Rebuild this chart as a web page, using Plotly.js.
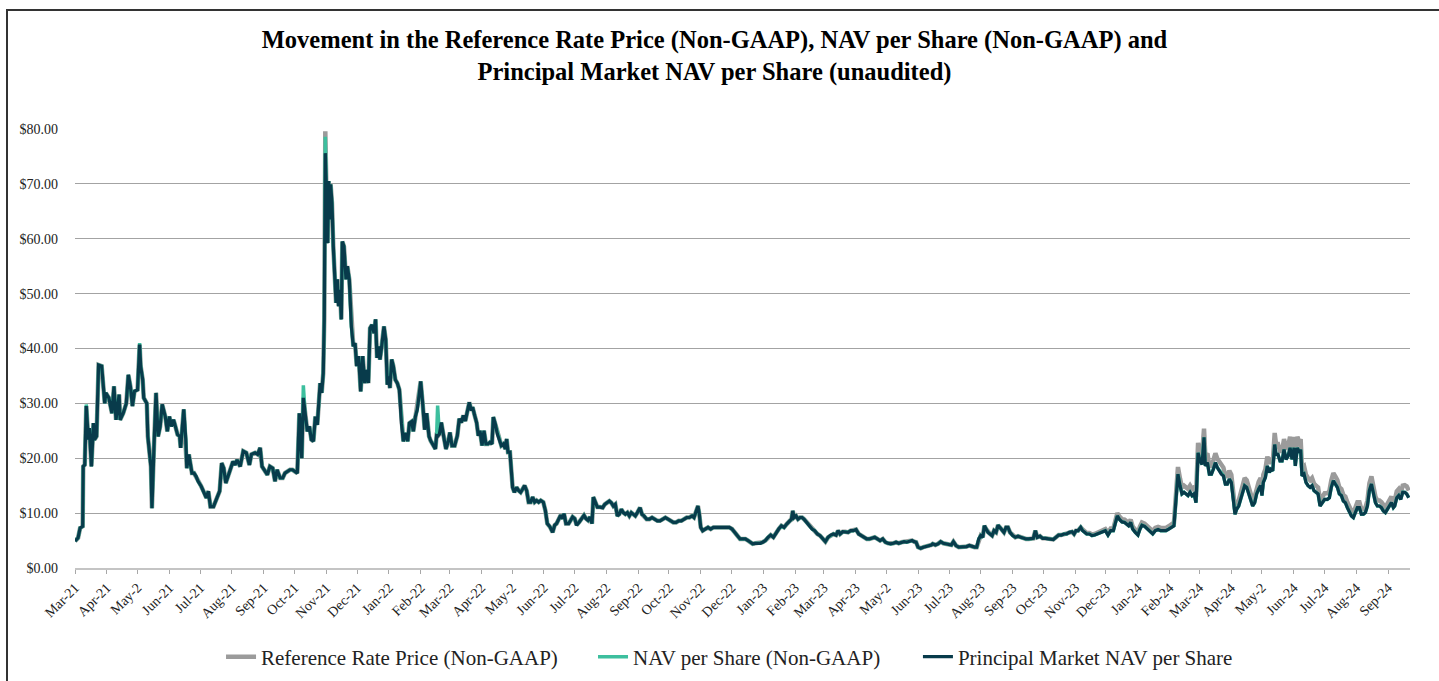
<!DOCTYPE html>
<html>
<head>
<meta charset="utf-8">
<script src="https://cdn.plot.ly/plotly-3.0.1.min.js"></script>
<style>
  html, body { margin: 0; padding: 0; background: #fff; }
  #chart { width: 1439px; height: 681px; position: relative; }
  #frame { position: absolute; left: 6px; top: 9px; width: 1433px; height: 672px;
           border-left: 2px solid #333; border-top: 2px solid #333; pointer-events: none; box-sizing: border-box; }
</style>
</head>
<body>
<div id="chart"></div>
<div id="frame"></div>
<script>
// Start of the series (first trading day shown)
const startDate = '2021-03-01';

// Days elapsed since startDate for each observation
const dayOffsets = [
  0,3,5,7.5,8,9.5,11,13,14,16,
  18,19,21,23,26,29,30,33,36,38,
  40,43,44,47,50,52,54,56,58,61,
  63,64,66,67,70,71,74,75,77,79,
  81,83,85,88,90,92,94,96,97,100,
  102,103,106,108,109,111,114,116,118,120,
  123,126,128,130,132,135,138,141,143,145,
  147,149,152,154,156,158,161,164,167,170,
  172,175.5,178,180.5,182.3,185,187.5,190,192.7,195,
  197,200,202.5,204.7,207,209.6,212,214.5,216.7,218.7,
  221,222.6,224.5,226.5,228.5,230.4,232.4,234.3,236.2,237.5,
  239,240.5,242,243,244,245,246.3,247.3,248.3,249.2,
  250.5,251.8,253.5,254.5,255.7,257,258.3,259.6,260.6,262.2,
  264.2,265.5,267.4,269.4,271.3,273,274.6,276.5,278.5,280.5,
  282.4,284.3,286,287.6,289.5,291.5,293,294.4,296,297.3,
  299,301.2,302.9,304.5,305.8,307,308.7,310.3,312.3,314.2,
  316.2,318.2,320.1,322.4,324.3,326,328.2,329.8,331.8,333.7,
  335.7,337,339,340.9,342.8,345.1,346.7,349.3,351.3,352.5,
  353.5,355.2,357.1,359,361.6,363.6,365.5,367.5,370.1,372.7,
  374.6,376.6,378.6,380.5,382.5,384.4,386.3,387.6,389.6,391.5,
  393.2,394.8,396.8,398.7,400.6,402.6,404.5,406.5,407.8,409.8,
  411.7,413.6,415.6,417.6,419.5,420.8,422.1,424,425.7,426.6,
  428.3,430.5,432.5,434.4,436.4,438.3,440.3,442.2,444.2,446.1,
  448.1,450,452,454,456.5,458.5,460.4,463,465.6,467.6,
  469.5,471.5,473.4,475.4,476.7,478.6,481.2,483.2,485.1,487.1,
  489,491.6,494.2,496.2,498.1,500.1,502,504,505.3,507.3,
  509.2,511.8,514.4,516.4,519,520.9,522.8,524.8,526.7,528.7,
  530.6,532.6,534.5,536.5,538.5,540.4,542.3,544.3,546.2,548.2,
  550.8,552.7,554.7,557.3,559.9,562.5,565.1,567.7,570.3,572.9,
  575.5,578.1,580.7,583.3,585.9,588.5,591.1,593.7,596.3,598.9,
  601.5,603.4,605.4,607.3,608.6,610,611.9,614.5,617.1,619.7,
  622.3,624.9,627.5,630.1,632.7,635.3,637.9,640.5,643.1,645.7,
  648.3,650.9,653.5,656.1,658.7,660.6,663.2,665.8,668,670.4,
  673,675.6,678.2,680.8,683.4,686,688.6,691.2,693.8,696.4,
  698.4,699.7,701,702.9,704.8,706.8,708.8,710.7,713.3,715.9,
  718.5,721.1,723.7,726.3,728.9,731.5,734.1,736.7,739.3,741.9,
  743.9,745.8,748.4,751,753.6,756.2,758.8,761.4,764,766.6,
  769.2,771.8,774.4,777,779.6,782.2,784.8,787.4,790,792.6,
  795.2,797.8,800.4,803,805.6,808.2,810.8,813.4,816,818,
  819.9,821.8,824.4,827,829.6,832.2,834.8,836.1,838.7,841.3,
  843.9,846.5,849.1,851.7,854.3,856.3,858.8,861.5,864,866.6,
  869.2,871.8,874.4,877,879,881,882.9,884.9,886.5,888.1,
  890,892,894,895.9,897.9,899.8,901.7,903.7,905.6,907.6,
  909.5,911.5,914.1,916.7,919.3,921.9,924.5,927.1,929.7,932.3,
  934.2,936.2,938.1,940.7,943.3,945.9,948.5,951.1,953.7,956.3,
  958.9,961.5,964.1,966.7,969.3,971.9,973.9,975.8,977.8,980.4,
  982.3,984.3,986.2,988.8,991.4,994,996.6,999.2,1001.8,1004.4,
  1007,1009.6,1012.2,1014.1,1016.1,1018,1020.6,1023.2,1025.2,1027.1,
  1029.1,1031,1033.6,1036.2,1038.2,1040.1,1042.7,1045.3,1047.9,1050.6,
  1053.1,1055.8,1058.4,1061,1063.5,1066.2,1068.7,1071.3,1073.3,1075.2,
  1077.2,1079.1,1081.1,1083,1085,1087,1088.9,1090.9,1092.8,1094.8,
  1096.7,1098.7,1100.6,1101.9,1103.9,1105.8,1107.8,1109.7,1111.7,1113.6,
  1115.6,1117.5,1119.5,1121.4,1123.3,1125.3,1127.2,1129.2,1130.8,1132.4,
  1134.4,1136.3,1138.3,1140.2,1142.2,1144.1,1146.1,1148,1150,1151.9,
  1153.9,1155.8,1157.1,1158.4,1160.4,1162.3,1164.3,1165.6,1167.6,1169.5,
  1170.8,1172.7,1174.7,1176.7,1178.6,1180.6,1182.5,1184.5,1186.4,1188.4,
  1189.6,1191.6,1193.6,1194.8,1196.1,1198.1,1200,1202,1204,1205.9,
  1207.8,1209.8,1211.8,1213.7,1215.7,1218.2,1220.8,1222.8,1224.7,1226.7,
  1228.6,1230.6,1232.5,1234.5,1236.4,1238.4,1240.3,1242.3,1244.3,1246.2,
  1248.2,1250.1,1252.1,1254,1256,1257.9,1259.9,1261.8,1263.8,1265.7,
  1267.7,1269.6,1271.6,1273.5,1275.4,1277.4,1279.4,1281.3,1283.3,1285.2,
  1286.5,1288.5,1290.4,1292.4,1294.3,1296.3,1298.2,1300.2
];

// Principal Market NAV per Share ($)
const principalNav = [
  4.9,5.5,7.3,7.6,18.5,18.8,29.5,23.4,25.5,18.5,
  26.4,23.4,24,37,36.8,30,31.9,31,28.2,33.1,
  27,31.6,27,28.2,30,35.2,33.1,29.5,32.2,32.5,
  40.7,36.8,34.3,31,30,24,18.5,10.9,22.2,31.9,
  24,25.8,29.8,27.6,24.9,27.6,25.8,27,26.4,24.3,
  24,21.9,28.9,23.4,18.2,20.7,17.3,17.3,16.7,15.8,
  14.9,13.7,12.8,14,11.2,11.2,12.5,14,19.1,18.2,
  15.5,16.7,18.2,19.4,18.8,19.7,18.5,21.3,21,18.8,
  20.7,21,20.7,21.9,18.5,17.6,17,18.5,18.2,15.8,
  17.9,16.4,16.4,17.3,17.6,17.9,17.9,17.6,17.3,28.2,
  20,31,27.6,24.9,25.8,23.4,23.1,27.6,26.1,29.5,
  33.7,31.9,35.5,45.3,75.6,69.6,59.2,70.5,63.5,69.9,
  66.5,58.6,53.2,48.3,52.6,47.7,50.7,45.3,59.5,58.6,
  52.6,55,52.6,44,40.4,41,36.8,38.6,32.2,38.6,
  33.7,36.1,33.7,43.7,44.3,42.8,45.3,38.3,40.4,38,
  40.4,44,41.6,33.4,34.9,32.8,38,36.8,34.3,33.7,
  32.5,26.4,23.1,24.6,23.1,26.4,26.7,24.9,27.6,28.9,
  31.9,34,29.8,25.2,28.2,24,23.2,22.3,21.7,24.1,
  24,24.4,26.5,24.4,21.7,22.9,24.7,22.3,22.3,24.1,
  27.2,26.5,27.8,26.8,28.7,30.2,28.7,29.3,27.8,26.5,
  24.1,25,22.3,25,22.6,22.6,22.9,22.6,27.5,26.2,
  24.4,23.5,22.3,22.6,21.7,23.5,21.1,21.1,17.8,14.7,
  13.8,14.7,14.1,13.8,14.4,15,14.1,12,12,12.9,
  12,12.3,12,12.3,12,10.5,8.1,7.5,6.5,7.8,
  8.1,9,9.6,9,9.9,8.1,8.1,8.7,9.3,9,
  7.8,8.4,9,9.6,9,8.7,9.3,8.1,12.9,12,
  11.1,11.1,11,11.6,11.9,12.2,11.9,11.3,11.6,9.5,
  9.8,10.7,10.1,9.8,10.1,9.5,10.1,9.8,9.5,10.1,
  11,9.8,9.5,8.9,8.9,9.2,8.9,8.6,8.6,8.9,
  9.2,8.9,8.6,8.3,8.3,8.6,8.6,8.9,9.2,9.2,
  9.5,9.2,10.4,11.3,9.8,7.4,6.8,7.1,7.4,7.1,
  7.4,7.4,7.4,7.4,7.4,7.4,7.4,7.1,6.5,5.9,
  5.3,5.3,5.3,5,4.7,4.4,4.5,4.5,4.5,4.7,
  5,5.6,6,5.6,6.5,7.1,7.7,7.4,8,8.6,
  8.9,10.4,9.2,9.5,8.9,9.2,9.2,8.9,8.3,7.7,
  7.1,6.8,6.2,5.9,5.3,4.8,5.6,6,6.2,6,
  6.8,6.2,6.6,6.6,6.5,6.8,6.8,7,6.2,5.9,
  5.6,5.3,5.3,5.4,5.6,5.3,5,5.3,4.7,4.5,
  4.4,4.5,4.7,4.5,4.7,4.8,4.7,4.8,5,4.8,
  4.7,3.8,3.6,3.8,3.9,4.1,4.2,4.4,4.2,4.4,
  4.8,4.5,4.4,4.2,4.2,4.8,4.1,3.8,3.8,3.9,
  3.9,4.1,3.9,3.8,3.8,5.3,5.9,5.6,7.7,7.1,
  6.5,6.2,5.9,6.8,6.5,7.8,7.4,6.8,6.5,7.4,
  7.4,6.5,5.9,5.6,5.8,5.6,5.4,5.3,5.3,5.3,
  5.4,6.8,5.6,5.8,5.4,5.4,5.3,5.3,5.2,5.6,
  6,6,6.2,6.2,6.5,6.6,6.2,6.8,6.8,7.4,
  6.8,6.5,6.2,6.2,5.9,6,6.2,6.5,6.6,6.8,
  6,6.8,6.8,8,9.5,8.9,8.4,8.3,8,7.7,
  8.3,7.1,6.5,6,7.1,7.8,7.6,7.1,6.8,6.2,
  6.8,7,6.8,6.8,6.8,7.1,7.4,7.7,12.5,17.1,
  15,13.5,13.8,13.5,13.2,13.8,13.2,13.5,11.9,21,
  19.5,18.9,23.8,18.6,19.2,17.1,17.1,18,19.2,18.3,
  17.7,17.1,16.8,15.3,15.3,16.2,15.6,12.5,9.8,10.7,
  11.3,12.5,14.1,15,14.7,13.5,12.5,11.3,11.9,13.5,
  14.4,15,13.2,15.6,16.5,18.6,17.4,18,17.7,22.5,
  20.7,20.7,19.5,19.5,21.6,19.8,20.4,21.9,19.8,21.9,
  18.6,21.9,21,21.6,16.8,17.1,15.6,15,14.7,15,
  14.1,13.8,13.5,11.3,11.9,12.5,12.5,12.8,14.7,15.9,
  15.3,14.7,13.5,13.2,12.2,11.9,11,10.1,9.5,9.2,
  10.1,11,11,9.8,9.8,10.1,11.3,14.1,15.3,13.5,
  11.9,11.3,11.3,11,10.4,10.1,10.7,11.3,11.9,11,
  11.3,12.8,13.2,12.5,13.8,13.8,13.5,12.8
];

// NAV per Share (Non-GAAP) ($)
const navPerShare = [
  4.9,5.5,7.3,7.6,18.5,18.8,29.8,23.4,25.5,18.5,
  26.4,23.4,24,37,36.8,30,31.9,31,28.2,33.1,
  27,31.6,27,28.2,30,35.2,33.1,29.5,32.2,32.5,
  41,36.8,34.3,31,30,24,18.5,10.9,22.2,31.9,
  24,25.8,29.8,27.6,24.9,27.6,25.8,27,26.4,24.3,
  24,21.9,28.9,23.4,18.2,20.7,17.3,17.3,16.7,15.8,
  14.9,13.7,12.8,14,11.2,11.2,12.5,14,19.1,18.2,
  15.5,16.7,18.2,19.4,18.8,19.7,18.5,21.3,21,18.8,
  20.7,21,20.7,21.9,18.5,17.6,17,18.5,18.2,15.8,
  17.9,16.4,16.4,17.3,17.6,17.9,17.9,17.6,17.3,28.2,
  20,33.3,27.6,24.9,25.8,23.4,23.1,27.6,26.1,29.5,
  33.7,31.9,35.5,45.3,78.6,69.6,59.2,70.5,63.5,69.9,
  66.5,58.6,53.2,48.3,52.6,47.7,50.7,45.3,59.5,58.6,
  52.6,55,52.6,44,40.4,41,36.8,38.6,32.2,38.6,
  33.7,36.1,33.7,43.7,44.3,42.8,45.3,38.3,40.4,38,
  40.4,44,41.6,33.4,34.9,32.8,38,36.8,34.3,33.7,
  32.5,26.4,23.1,24.6,23.1,26.4,26.7,24.9,27.6,28.9,
  31.9,34,29.8,25.2,28.2,24,23.2,22.3,21.7,24.1,
  29.6,24.4,26.5,24.4,21.7,22.9,24.7,22.3,22.3,24.1,
  27.2,26.5,27.8,26.8,28.7,30.2,28.7,29.3,27.8,26.5,
  24.1,25,22.3,25,22.6,22.6,22.9,22.6,27.5,26.2,
  24.4,23.5,22.3,22.6,21.7,23.5,21.1,21.1,17.8,14.7,
  13.8,14.7,14.1,13.8,14.4,15,14.1,12,12,12.9,
  12,12.3,12,12.3,12,10.5,8.1,7.5,6.5,7.8,
  8.1,9,9.6,9,9.9,8.1,8.1,8.7,9.3,9,
  7.8,8.4,9,9.6,9,8.7,9.3,8.1,12.9,12,
  11.1,11.1,11,11.6,11.9,12.2,11.9,11.3,11.6,9.5,
  9.8,10.7,10.1,9.8,10.1,9.5,10.1,9.8,9.5,10.1,
  11,9.8,9.5,8.9,8.9,9.2,8.9,8.6,8.6,8.9,
  9.2,8.9,8.6,8.3,8.3,8.6,8.6,8.9,9.2,9.2,
  9.5,9.2,10.4,11.3,9.8,7.4,6.8,7.1,7.4,7.1,
  7.4,7.4,7.4,7.4,7.4,7.4,7.4,7.1,6.5,5.9,
  5.3,5.3,5.3,5,4.7,4.4,4.5,4.5,4.5,4.7,
  5,5.6,6,5.6,6.5,7.1,7.7,7.4,8,8.6,
  8.9,10.4,9.2,9.5,8.9,9.2,9.2,8.9,8.3,7.7,
  7.1,6.8,6.2,5.9,5.3,4.8,5.6,6,6.2,6,
  6.8,6.2,6.6,6.6,6.5,6.8,6.8,7,6.2,5.9,
  5.6,5.3,5.3,5.4,5.6,5.3,5,5.3,4.7,4.5,
  4.4,4.5,4.7,4.5,4.7,4.8,4.7,4.8,5,4.8,
  4.7,3.8,3.6,3.8,3.9,4.1,4.2,4.4,4.2,4.4,
  4.8,4.5,4.4,4.2,4.2,4.8,4.1,3.8,3.8,3.9,
  3.9,4.1,3.9,3.8,3.8,5.3,5.9,5.6,7.7,7.1,
  6.5,6.2,5.9,6.8,6.5,7.8,7.4,6.8,6.5,7.4,
  7.4,6.5,5.9,5.6,5.8,5.6,5.4,5.3,5.3,5.3,
  5.4,6.8,5.6,5.8,5.4,5.4,5.3,5.3,5.2,5.6,
  6,6,6.2,6.2,6.5,6.6,6.2,6.8,6.8,7.4,
  6.8,6.5,6.2,6.2,5.9,6,6.2,6.5,6.6,6.8,
  6,6.8,6.8,8,9.5,8.9,8.4,8.3,8,7.7,
  8.3,7.1,6.5,6,7.1,7.8,7.6,7.1,6.8,6.2,
  6.8,7,6.8,6.8,6.8,7.1,7.4,7.7,12.5,17.1,
  15,13.5,13.8,13.5,13.2,13.8,13.2,13.5,11.9,21,
  19.5,18.9,23.8,18.6,19.2,17.1,17.1,18,19.2,18.3,
  17.7,17.1,16.8,15.3,15.3,16.2,15.6,12.5,9.8,10.7,
  11.3,12.5,14.1,15,14.7,13.5,12.5,11.3,11.9,13.5,
  14.4,15,13.2,15.6,16.5,18.6,17.4,18,17.7,22.5,
  20.7,20.7,19.5,19.5,21.6,19.8,20.4,21.9,19.8,21.9,
  18.6,21.9,21,21.6,16.8,17.1,15.6,15,14.7,15,
  14.1,13.8,13.5,11.3,11.9,12.5,12.5,12.8,14.7,15.9,
  15.3,14.7,13.5,13.2,12.2,11.9,11,10.1,9.5,9.2,
  10.1,11,11,9.8,9.8,10.1,11.3,14.1,15.3,13.5,
  11.9,11.3,11.3,11,10.4,10.1,10.7,11.3,11.9,11,
  11.3,12.8,13.2,12.5,13.8,13.8,13.5,12.8
];

// Reference Rate Price (Non-GAAP) ($)
const referenceRatePrice = [
  4.9,5.5,7.3,7.6,18.5,18.8,29.5,23.4,25.5,18.5,
  26.4,23.4,24,37,36.8,30,31.9,31,28.2,33.1,
  27,31.6,27,28.2,30,35.2,33.1,29.5,32.2,32.5,
  40.7,36.8,34.3,31,30,24,18.5,10.9,22.2,31.9,
  24,25.8,29.8,27.6,24.9,27.6,25.8,27,26.4,24.3,
  24,21.9,28.9,23.4,18.2,20.7,17.3,17.3,16.7,15.8,
  14.9,13.7,12.8,14,11.2,11.2,12.5,14,19.1,18.2,
  15.5,16.7,18.2,19.4,18.8,19.7,18.5,21.3,21,18.8,
  20.7,21,20.7,21.9,18.5,17.6,17,18.5,18.2,15.8,
  17.9,16.4,16.4,17.3,17.6,17.9,17.9,17.6,17.3,28.2,
  20,31,27.6,24.9,25.8,23.4,23.1,27.6,26.1,29.5,
  33.7,31.9,35.5,45.3,79.6,69.6,59.2,70.5,63.5,69.9,
  66.5,58.6,53.2,48.3,52.6,47.7,50.7,45.3,59.5,58.6,
  52.6,55,52.6,44,40.4,41,36.8,38.6,32.2,38.6,
  33.7,36.1,33.7,43.7,44.3,42.8,45.3,38.3,40.4,38,
  40.4,44,41.6,33.4,34.9,32.8,38,36.8,34.3,33.7,
  32.5,26.4,23.1,24.6,23.1,26.4,26.7,24.9,27.6,28.9,
  31.9,34,29.8,25.2,28.2,24,23.2,22.3,21.7,24.1,
  24,24.4,26.5,24.4,21.7,22.9,24.7,22.3,22.3,24.1,
  27.2,26.5,27.8,26.8,28.7,30.2,28.7,29.3,27.8,26.5,
  24.1,25,22.3,25,22.6,22.6,22.9,22.6,27.5,26.2,
  24.4,23.5,22.3,22.6,21.7,23.5,21.1,21.1,17.8,14.7,
  13.8,14.7,14.1,13.8,14.4,15,14.1,12,12,12.9,
  12,12.3,12,12.3,12,10.5,8.1,7.5,6.5,7.8,
  8.1,9,9.6,9,9.9,8.1,8.1,8.7,9.3,9,
  7.8,8.4,9,9.6,9,8.7,9.3,8.1,12.9,12,
  11.1,11.1,11,11.6,11.9,12.2,11.9,11.3,11.6,9.5,
  9.8,10.7,10.1,9.8,10.1,9.5,10.1,9.8,9.5,10.1,
  11,9.8,9.5,8.9,8.9,9.2,8.9,8.6,8.6,8.9,
  9.2,8.9,8.6,8.3,8.3,8.6,8.6,8.9,9.2,9.2,
  9.5,9.2,10.4,11.3,9.8,7.4,6.8,7.1,7.4,7.1,
  7.4,7.4,7.4,7.4,7.4,7.4,7.4,7.1,6.5,5.9,
  5.3,5.3,5.3,5,4.7,4.4,4.5,4.5,4.5,4.7,
  5,5.6,6,5.6,6.5,7.1,7.7,7.4,8,8.6,
  8.9,10.4,9.2,9.5,8.9,9.2,9.2,8.9,8.3,7.7,
  7.1,6.8,6.2,5.9,5.3,4.8,5.6,6,6.2,6,
  6.8,6.2,6.6,6.6,6.5,6.8,6.8,7,6.2,5.9,
  5.6,5.3,5.3,5.4,5.6,5.3,5,5.3,4.7,4.5,
  4.4,4.5,4.7,4.5,4.7,4.8,4.7,4.8,5,4.8,
  4.7,3.8,3.6,3.8,3.9,4.1,4.2,4.4,4.2,4.4,
  4.8,4.5,4.4,4.2,4.2,4.8,4.1,3.8,3.8,3.9,
  3.9,4.1,3.9,3.8,3.8,5.3,5.9,5.6,7.7,7.1,
  6.5,6.2,5.9,6.8,6.5,7.8,7.4,6.8,6.5,7.4,
  7.4,6.5,5.9,5.6,5.8,5.6,5.4,5.3,5.3,5.3,
  5.4,6.8,5.6,5.8,5.4,5.4,5.3,5.3,5.2,5.6,
  6,6,6.2,6.2,6.5,6.6,6.2,6.8,6.8,7.4,
  7,6.7,6.4,6.4,6.1,6.2,6.4,6.8,6.9,7.1,
  6.4,7.2,7.2,8.5,10,9.4,8.9,8.8,8.5,8.2,
  8.8,7.6,7,6.5,7.6,8.3,8.1,7.6,7.3,6.7,
  7.3,7.5,7.3,7.3,7.3,7.6,7.9,8.3,13.5,18.4,
  16.3,14.7,15,14.7,14.4,15,14.4,14.7,13,22.8,
  21.2,20.6,25.4,20.3,20.9,18.6,18.6,19.6,20.9,19.9,
  19.3,18.6,18.3,16.7,16.7,17.7,17,13.6,10.7,11.7,
  12.3,13.6,15.4,16.4,16,14.7,13.6,12.3,13,14.7,
  15.7,16.4,14.4,17,18,20.3,19,19.6,19.3,24.6,
  22.6,22.6,21.3,21.3,23.5,21.6,22.2,23.9,21.6,23.9,
  20.3,23.9,22.9,23.5,18.3,18.6,17,16.4,16,16.4,
  15.4,15,14.7,12.3,13,13.6,13.6,14,16,17.3,
  16.7,16,14.7,14.4,13.3,13,12,11,10.4,10,
  11,12,12,10.7,10.7,11,12.3,15.4,16.7,14.7,
  13,12.3,12.3,12,11.3,11,11.7,12.3,13,12,
  12.3,14,14.4,13.6,15,15.1,14.9,14.1
];

// Month tick labels (as printed, including the clipped "May-2")
const tickLabels = [
  'Mar-21','Apr-21','May-2','Jun-21','Jul-21','Aug-21','Sep-21','Oct-21','Nov-21','Dec-21',
  'Jan-22','Feb-22','Mar-22','Apr-22','May-2','Jun-22','Jul-22','Aug-22','Sep-22','Oct-22','Nov-22','Dec-22',
  'Jan-23','Feb-23','Mar-23','Apr-23','May-2','Jun-23','Jul-23','Aug-23','Sep-23','Oct-23','Nov-23','Dec-23',
  'Jan-24','Feb-24','Mar-24','Apr-24','May-2','Jun-24','Jul-24','Aug-24','Sep-24'
];

const seriesNames = ['Reference Rate Price (Non-GAAP)', 'NAV per Share (Non-GAAP)', 'Principal Market NAV per Share'];

function pad(n) { return (n < 10 ? '0' : '') + n; }
function fmt(ms) {
  const d = new Date(ms);
  return d.getUTCFullYear() + '-' + pad(d.getUTCMonth() + 1) + '-' + pad(d.getUTCDate()) + ' ' +
         pad(d.getUTCHours()) + ':' + pad(d.getUTCMinutes());
}
const [sy, sm, sd] = startDate.split('-').map(Number);
const startMs = Date.UTC(sy, sm - 1, sd);
const xDates = dayOffsets.map(d => fmt(startMs + d * 86400000));
const tickVals = tickLabels.map((_, i) => fmt(Date.UTC(sy, sm - 1 + i, 1)));

const serif = 'Liberation Serif, Times New Roman, serif';

const traces = [
  { x: xDates, y: referenceRatePrice, name: seriesNames[0], type: 'scatter', mode: 'lines',
    line: { color: '#9b9b9b', width: 4.5 }, legend: 'legend' },
  { x: xDates, y: navPerShare, name: seriesNames[1], type: 'scatter', mode: 'lines',
    line: { color: '#3dbf9e', width: 3.5 }, legend: 'legend2' },
  { x: xDates, y: principalNav, name: seriesNames[2], type: 'scatter', mode: 'lines',
    line: { color: '#083b4b', width: 3.2 }, legend: 'legend3' }
];

const legendBase = {
  orientation: 'h', xanchor: 'left', xref: 'container', yref: 'container',
  y: 0.0352, yanchor: 'middle',
  font: { family: serif, size: 21, color: '#222' },
  itemwidth: 30, bgcolor: 'rgba(0,0,0,0)'
};

const layout = {
  width: 1439, height: 681,
  margin: { l: 75, r: 29, t: 129, b: 113 },
  paper_bgcolor: '#ffffff', plot_bgcolor: '#ffffff',
  font: { family: serif, color: '#222', size: 14 },
  title: {
    text: '<b>Movement in the Reference Rate Price (Non-GAAP), NAV per Share (Non-GAAP) and</b><br><b>Principal Market NAV per Share (unaudited)</b>',
    font: { family: serif, size: 24.5, color: '#000' },
    x: 0.4965, xref: 'container', xanchor: 'center',
    y: 0.93, yref: 'container', yanchor: 'top'
  },
  xaxis: {
    type: 'date', automargin: false,
    range: [fmt(startMs), fmt(startMs + 1301.4 * 86400000)],
    tickmode: 'array', tickvals: tickVals, ticktext: tickLabels,
    tickangle: -45, ticks: 'outside', ticklen: 4, tickcolor: '#a8a8a8', tickwidth: 1,
    showgrid: false, showline: true, linecolor: '#c4c4c4', linewidth: 2,
    zeroline: false,
    tickfont: { family: serif, size: 14, color: '#222' }
  },
  yaxis: {
    automargin: false,
    range: [0, 80], dtick: 10, tick0: 0,
    tickprefix: '$', tickformat: '.2f',
    showgrid: true, gridcolor: '#a3a3a3', gridwidth: 1,
    zeroline: false, showline: false, ticks: '',
    ticklabelstandoff: 16,
    tickfont: { family: serif, size: 14, color: '#222' }
  },
  showlegend: true,
  legend: Object.assign({}, legendBase, { x: 0.1536 }),
  legend2: Object.assign({}, legendBase, { x: 0.4121 }),
  legend3: Object.assign({}, legendBase, { x: 0.6379 })
};

Plotly.newPlot('chart', traces, layout, { displayModeBar: false, staticPlot: true });
</script>
</body>
</html>
